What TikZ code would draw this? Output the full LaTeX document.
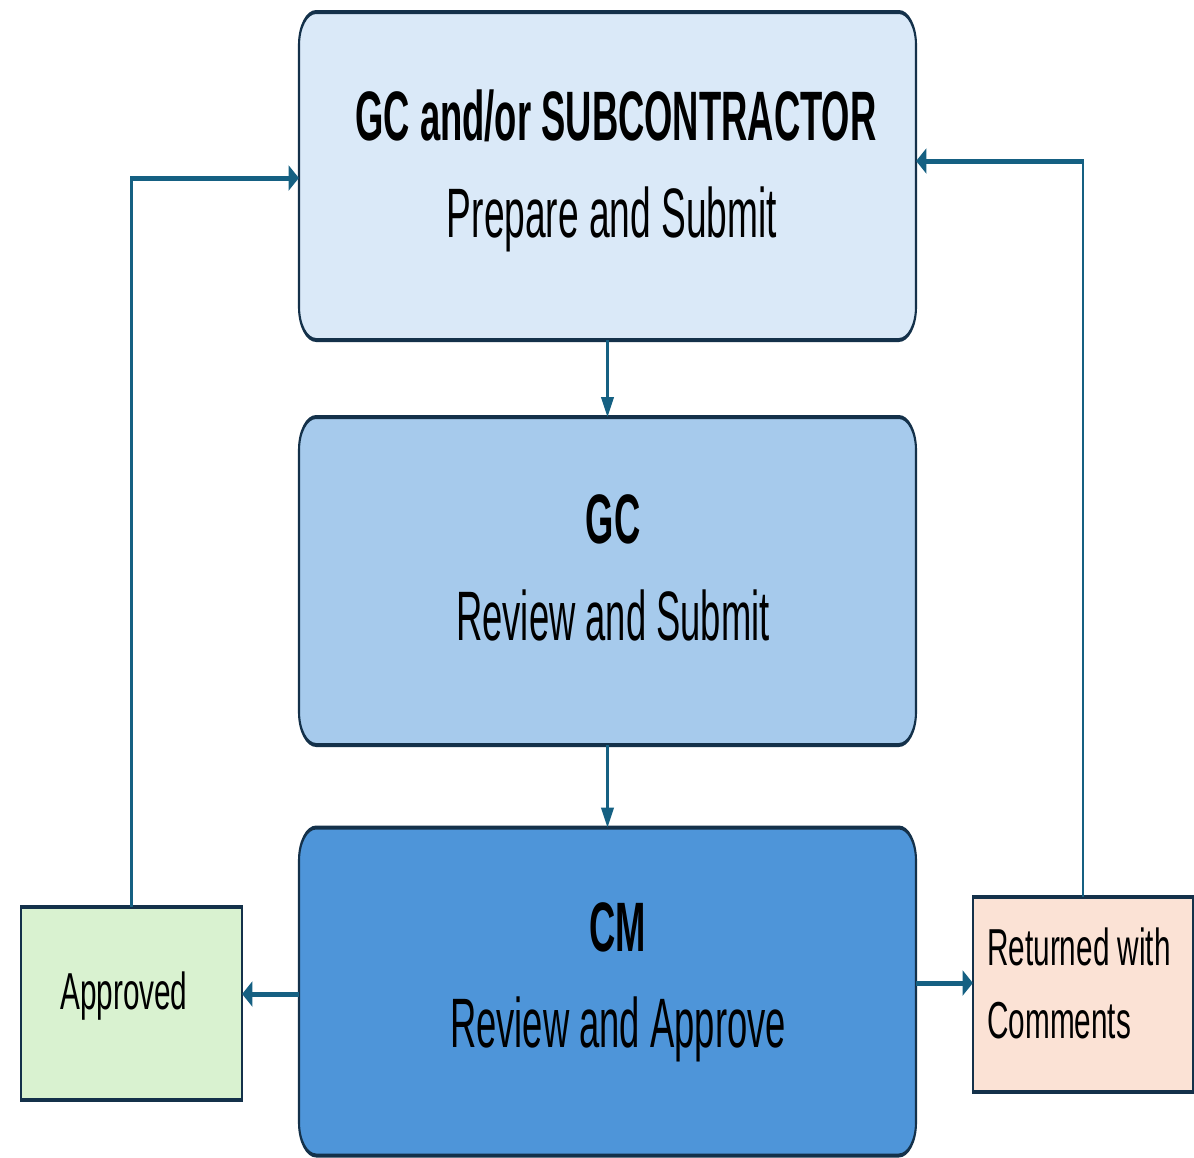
\documentclass[tikz,border=0pt]{standalone}
\usepackage{fontspec}
\setmainfont{Liberation Sans}
\usetikzlibrary{arrows.meta}
\definecolor{fillTop}{HTML}{DAE9F8}
\definecolor{fillMid}{HTML}{A6CAEC}
\definecolor{fillBot}{HTML}{4E95D9}
\definecolor{fillOk}{HTML}{D9F2D0}
\definecolor{fillRet}{HTML}{FBE2D5}
\definecolor{edge}{HTML}{14314A}
\definecolor{conncol}{HTML}{156082}
\tikzset{
  stagebox/.style={draw=edge, line width=2pt, rounded corners=16.5pt, rectangle, outer sep=0pt, inner sep=0pt},
  resultbox/.style={draw=edge, line width=2pt, rectangle, outer sep=0pt, inner sep=0pt},
  conn/.style={draw=conncol, line width=2.5pt, -{Triangle[width=12pt,length=10pt]}},
  bigbold/.style={font=\fontsize{35}{40}\selectfont\bfseries, anchor=base, inner sep=0pt},
  bigreg/.style={font=\fontsize{35}{40}\selectfont, anchor=base, inner sep=0pt},
  small/.style={font=\fontsize{26}{30}\selectfont, anchor=base west, inner sep=0pt}
}
\begin{document}
\begin{tikzpicture}
\useasboundingbox (0pt,0pt) rectangle (597pt,-578.5pt);
\begin{scope}[transform canvas={xscale=0.52}, x=0.961538pt, y=-0.5pt]
  % stage boxes
  \node[stagebox, fill=fillTop, minimum width={617*0.961538pt}, minimum height={328*0.5pt}] (top) at (607.5,176) {};
  \node[stagebox, fill=fillMid, minimum width={617*0.961538pt}, minimum height={328*0.5pt}] (mid) at (607.5,581) {};
  \node[stagebox, fill=fillBot, minimum width={617*0.961538pt}, minimum height={328*0.5pt}] (bot) at (607.5,991.5) {};
  % result boxes
  \node[resultbox, fill=fillOk, minimum width={221*0.961538pt}, minimum height={193*0.5pt}] (appr) at (131.5,1003.5) {};
  \node[resultbox, fill=fillRet, minimum width={220*0.961538pt}, minimum height={195*0.5pt}] (ret) at (1083,994.5) {};
  % texts
  \node[bigbold] (t1) at (616,140) {GC and/or SUBCONTRACTOR};
  \node[bigreg] (t2) at (612,237) {\scalebox{1.02}[1]{Prepare and Submit}};
  \node[bigbold] (m1) at (613,543) {GC};
  \node[bigreg] (m2) at (613,640) {Review and Submit};
  \node[bigbold] (b1) at (618,951) {CM};
  \node[bigreg] (b2) at (618,1047) {Review and Approve};
  \node[small] (a1) at (60,1009) {\scalebox{1.1}[1]{Approved}};
  \node[small] (r1) at (987,965) {\scalebox{1.1}[1]{Returned with}};
  \node[small] (r2) at (987,1038) {\scalebox{1.1}[1]{Comments}};
  % connectors
  \draw[conn] (top.south) -- (mid.north);
  \draw[conn] (mid.south) -- (bot.north);
  \draw[conn] (bot.west |- 0,994) -- (appr.east |- 0,994);
  \draw[conn] (bot.east |- 0,983) -- (ret.west |- 0,983);
  \draw[conn] (appr.north) |- (top.west |- 0,178);
  \draw[conn] (ret.north) |- (top.east |- 0,161);
\end{scope}
\end{tikzpicture}
\end{document}
